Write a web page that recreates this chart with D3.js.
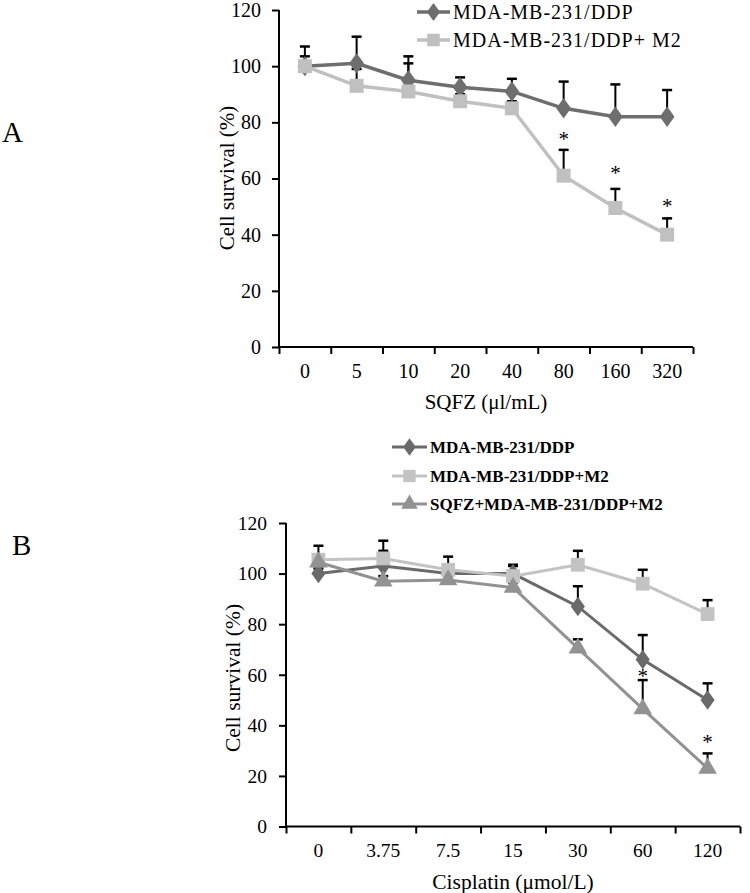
<!DOCTYPE html>
<html><head><meta charset="utf-8">
<script src="https://cdn.jsdelivr.net/npm/d3@7"></script>
<style>
html,body{margin:0;padding:0;background:#fff;}
svg{display:block;}
text{font-family:"Liberation Serif","Times New Roman",serif;fill:#000;}
</style></head>
<body>
<svg id="c" width="750" height="893"></svg>
<script>
// ---------- Panel A data ----------
const catsA = ["0","5","10","20","40","80","160","320"];
const aDDP = [100,101,95,92.5,91,85,82,82];
const aDDPErr = [7,9.5,8.5,3.5,4.5,9.5,11.5,9.5];
const aM2 = [100,93,91,87.5,85,61,49.5,40];
const aM2Err = [3.5,6,10,2.5,2.5,9.2,6.8,5.8];
const starsACats = ["80","160","320"];
const starsAVals = [75.5,63.4,51.6];
const yTicksA = [0,20,40,60,80,100,120];
const seriesNamesA = ["MDA-MB-231/DDP","MDA-MB-231/DDP+ M2"];

// ---------- Panel B data ----------
const catsB = ["0","3.75","7.5","15","30","60","120"];
const bDDP = [100,103,100,100,87,66,50];
const bDDPErr = [2,6,2,3,8,9.7,6.6];
const bM2 = [105.5,106,101.5,99,103.5,96,84];
const bM2Err = [5.5,7,5.2,4.5,5.5,5.5,5.5];
const bSQFZ = [104.5,97,97.5,94.5,70.5,46.5,23];
const bSQFZErr = [2,2,2,2,3.5,11.4,5.9];
const starsBCats = ["60","120"];
const starsBVals = [61.2,35];
const yTicksB = [0,20,40,60,80,100,120];
const seriesNamesB = ["MDA-MB-231/DDP","MDA-MB-231/DDP+M2","SQFZ+MDA-MB-231/DDP+M2"];

const svg = d3.select("#c");

function symbolPath(type,size){
  return d3.symbol().type(type).size(size)();
}

function drawPanel(cfg){
  const g = svg.append("g");
  const x = d3.scaleBand().domain(cfg.cats).range([cfg.x0,cfg.x1]).padding(0);
  const y = d3.scaleLinear().domain([0,120]).range([cfg.y0,cfg.y1]);

  // y axis
  const ya = g.append("g").attr("transform",`translate(${cfg.x0},0)`)
    .call(d3.axisLeft(y).tickValues(cfg.yTicks).tickSize(7).tickPadding(cfg.yPad).tickFormat(d3.format("d")));
  ya.selectAll("path,line").attr("stroke","#000").attr("stroke-width",2);
  ya.select(".domain").attr("d",`M-0,${cfg.y0}V${cfg.y1}`);
  ya.selectAll("text").attr("font-size",cfg.tickFs).attr("font-family",'"Liberation Serif",serif').attr("fill","#000");

  // x axis: line + ticks at band edges
  const edges = cfg.cats.map(c=>x(c)).concat([cfg.x1]);
  const edgeScale = d3.scaleLinear().domain([cfg.x0,cfg.x1]).range([cfg.x0,cfg.x1]);
  const xa = g.append("g").attr("transform",`translate(0,${cfg.y0})`)
    .call(d3.axisBottom(edgeScale).tickValues(edges).tickSize(7).tickFormat(""));
  xa.selectAll("path,line").attr("stroke","#000").attr("stroke-width",2);
  xa.select(".domain").attr("d",`M${cfg.x0},0H${cfg.x1}`);
  const xl = g.append("g").attr("transform",`translate(0,${cfg.y0})`)
    .call(d3.axisBottom(x).tickSize(0).tickPadding(cfg.xPad));
  xl.select(".domain").remove();
  xl.selectAll("text").attr("font-size",cfg.tickFs).attr("font-family",'"Liberation Serif",serif').attr("fill","#000");

  // axis titles
  g.append("text").attr("x",(cfg.x0+cfg.x1)/2).attr("y",cfg.xTitleY).attr("text-anchor","middle")
    .attr("dominant-baseline","central").attr("font-size",cfg.titleFs).text(cfg.xTitle);
  g.append("text").attr("transform",`translate(${cfg.yTitleX},${cfg.yTitleY}) rotate(-90)`)
    .attr("text-anchor","middle").attr("dominant-baseline","central").attr("font-size",cfg.titleFs)
    .text("Cell survival (%)");

  const cx = c => x(c)+x.bandwidth()/2;
  const line = d3.line().x((d,i)=>cx(cfg.cats[i])).y(d=>y(d));

  // series
  cfg.series.forEach(s=>{
    // error bars (upper)
    const eb = g.append("g");
    s.values.forEach((v,i)=>{
      const top = y(v+s.err[i]);
      eb.append("line").attr("x1",cx(cfg.cats[i])).attr("x2",cx(cfg.cats[i]))
        .attr("y1",y(v)).attr("y2",top).attr("stroke","#000").attr("stroke-width",2);
      eb.append("line").attr("x1",cx(cfg.cats[i])-cfg.cap).attr("x2",cx(cfg.cats[i])+cfg.cap)
        .attr("y1",top).attr("y2",top).attr("stroke","#000").attr("stroke-width",2.5);
    });
  });
  cfg.series.forEach(s=>{
    g.append("path").attr("d",line(s.values)).attr("fill","none")
      .attr("stroke",s.color).attr("stroke-width",cfg.lw);
    g.selectAll(null).data(s.values).enter().append("path")
      .attr("d",symbolPath(s.symbol,s.size))
      .attr("transform",(d,i)=>`translate(${cx(cfg.cats[i])},${y(d)})${s.symbol===d3.symbolDiamond?" scale(1.25,1)":""}`)
      .attr("fill",s.color);
  });

  // stars
  cfg.starCats.forEach((c,i)=>{
    g.append("text").attr("x",cx(c)).attr("y",y(cfg.starVals[i])+11)
      .attr("text-anchor","middle").attr("font-size",21).text("*");
  });

  // legend
  cfg.series.forEach((s,i)=>{
    const ly = cfg.legY[i];
    g.append("line").attr("x1",cfg.legX0).attr("x2",cfg.legX1).attr("y1",ly).attr("y2",ly)
      .attr("stroke",s.color).attr("stroke-width",cfg.lw);
    g.append("path").attr("d",symbolPath(s.symbol,s.size*0.8))
      .attr("transform",`translate(${(cfg.legX0+cfg.legX1)/2},${ly})${s.symbol===d3.symbolDiamond?" scale(1.25,1)":""}`)
      .attr("fill",s.color);
    g.append("text").attr("x",cfg.legX1+3).attr("y",ly).attr("dominant-baseline","central")
      .attr("font-size",cfg.legFs).attr("font-weight",cfg.legW)
      .attr("letter-spacing",cfg.legLS).text(cfg.names[i]);
  });
}

drawPanel({
  cats:catsA, x0:279, x1:693, y0:347, y1:10, yTicks:yTicksA, tickFs:20, yPad:11, xPad:17,
  xTitle:"SQFZ (μl/mL)", xTitleY:402, yTitleX:227, yTitleY:178, titleFs:21,
  lw:3.5, cap:5,
  series:[
    {values:aDDP, err:aDDPErr, color:"#6e6e6e", symbol:d3.symbolDiamond, size:120},
    {values:aM2, err:aM2Err, color:"#c0c0c0", symbol:d3.symbolSquare, size:196}
  ],
  starCats:starsACats, starVals:starsAVals,
  names:seriesNamesA, legY:[12,40], legX0:417, legX1:450, legFs:20, legW:"normal", legLS:1
});

drawPanel({
  cats:catsB, x0:286, x1:740, y0:826.5, y1:523, yTicks:yTicksB, tickFs:19.5, yPad:12, xPad:17,
  xTitle:"Cisplatin (μmol/L)", xTitleY:882, yTitleX:233, yTitleY:678, titleFs:21.5,
  lw:3, cap:5,
  series:[
    {values:bDDP, err:bDDPErr, color:"#6a6a6a", symbol:d3.symbolDiamond, size:110},
    {values:bM2, err:bM2Err, color:"#c3c3c3", symbol:d3.symbolSquare, size:190},
    {values:bSQFZ, err:bSQFZErr, color:"#929292", symbol:d3.symbolTriangle, size:150}
  ],
  starCats:starsBCats, starVals:starsBVals,
  names:seriesNamesB, legY:[447,476,504], legX0:392, legX1:427, legFs:17, legW:"bold", legLS:0
});

// panel letters
svg.append("text").attr("x",2).attr("y",142).attr("font-size",29).text("A");
svg.append("text").attr("x",12).attr("y",555).attr("font-size",29).text("B");
</script>
</body></html>
